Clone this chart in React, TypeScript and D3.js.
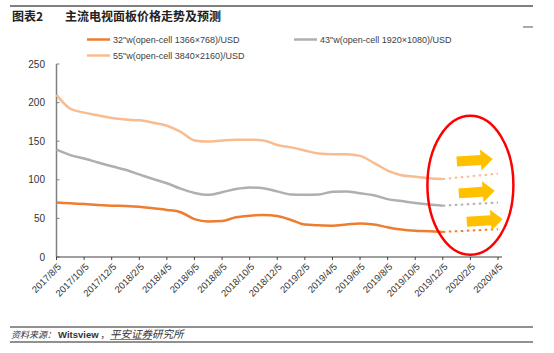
import * as d3 from "d3";

const W = 554;
const H = 353;

// x axis labels, one every two months
const tickLabels = [
  "2017/8/5", "2017/10/5", "2017/12/5", "2018/2/5", "2018/4/5", "2018/6/5",
  "2018/8/5", "2018/10/5", "2018/12/5", "2019/2/5", "2019/4/5", "2019/6/5",
  "2019/8/5", "2019/10/5", "2019/12/5", "2020/2/5", "2020/4/5",
];

// monthly prices, 2017/8 .. 2019/12 (month index 0..28)
const price32 = [
  70.5, 69.5, 68.5, 67.5, 66.5, 66, 65, 63, 61, 58, 49, 46, 46.5, 51.5, 53.5,
  54.5, 53, 48, 42, 41, 40.5, 42, 43.5, 42, 38.5, 35.5, 34, 33.5, 32.5,
];
const price43 = [
  139, 132, 127.5, 122.5, 117.5, 113, 107, 101, 95.5, 88.5, 83, 80.5, 84, 88,
  90, 89, 85, 81, 80.5, 81, 84.5, 85, 82.5, 80, 75, 72.5, 70, 68, 66.5,
];
const price55 = [
  210, 192, 187, 183.5, 180, 178, 177, 174, 170, 162, 151, 149.5, 151, 152,
  152, 151, 145, 142, 138, 134, 133, 133, 131, 122, 112, 106, 104, 102, 101,
];

// forecast (dotted): from last month to 2020/4
const forecastMonths = [28, 32];
const forecast32 = [32.5, 36];
const forecast43 = [66.5, 70.5];
const forecast55 = [101, 108];

const series = [
  { name: "32\"w(open-cell 1366×768)/USD", color: "#ED7D31", values: price32, fc: forecast32 },
  { name: "43\"w(open-cell 1920×1080)/USD", color: "#AFAFAF", values: price43, fc: forecast43 },
  { name: "55\"w(open-cell 3840×2160)/USD", color: "#F8BC91", values: price55, fc: forecast55 },
];

const yTicks = [0, 50, 100, 150, 200, 250];

const x = d3.scaleLinear().domain([0, 32]).range([56.5, 498]);
const y = d3.scaleLinear().domain([0, 250]).range([257, 64]);

const cjk = "'Noto Sans CJK SC', 'Liberation Sans', sans-serif";
const latin = "'Liberation Sans', Arial, sans-serif";

const line = d3
  .line<number>()
  .x((_, i) => x(i))
  .y((d) => y(d))
  .curve(d3.curveMonotoneX);

const fcLine = d3
  .line<number>()
  .x((_, i) => x(forecastMonths[i]))
  .y((d) => y(d));

function arrowPath(x0: number, x1: number, cy: number) {
  const head = 12;
  const sh = 5;
  const hh = 10.5;
  const xm = x1 - head;
  return `M${x0},${cy - sh}L${xm},${cy - sh}L${xm},${cy - hh}L${x1},${cy}L${xm},${cy + hh}L${xm},${cy + sh}L${x0},${cy + sh}Z`;
}

export default function App() {
  const ex = x(30);
  const ey = y(93);
  return (
    <div style={{ position: "absolute", left: 0, top: 0, background: "#fff" }}>
      <svg width={W} height={H} style={{ display: "block" }}>
        <rect width={W} height={H} fill="#fff" />
        {/* header */}
        <line x1={10} x2={533} y1={6} y2={6} stroke="#808080" strokeWidth={2} />
        <text x={12} y={21} fontFamily={cjk} fontSize={12} fontWeight="bold" fill="#222">图表2</text>
        <text x={65} y={21} fontFamily={cjk} fontSize={12} fontWeight="bold" fill="#222">主流电视面板价格走势及预测</text>
        <line x1={523} x2={533} y1={27} y2={27} stroke="#555" strokeWidth={1} />

        {/* legend */}
        {series.map((s, i) => {
          const lx = i === 1 ? 294 : 87;
          const ly = i === 2 ? 55.5 : 39.5;
          return (
            <g key={s.name}>
              <line x1={lx} x2={lx + 23} y1={ly} y2={ly} stroke={s.color} strokeWidth={2.5} />
              <text x={lx + 26} y={ly + 3} fontFamily={latin} fontSize={9} fill="#404040">{s.name}</text>
            </g>
          );
        })}

        {/* y axis */}
        <line x1={x(0)} x2={x(0)} y1={y(250)} y2={y(0)} stroke="#808080" strokeWidth={1.5} />
        {yTicks.map((t) => (
          <g key={t}>
            <line x1={x(0)} x2={x(0) + 3} y1={y(t)} y2={y(t)} stroke="#808080" />
            <text x={45} y={y(t) + 3.5} textAnchor="end" fontFamily={latin} fontSize={10} fill="#333">{t}</text>
          </g>
        ))}

        {/* x axis */}
        <line x1={x(0)} x2={502} y1={y(0)} y2={y(0)} stroke="#404040" strokeWidth={1} />
        {tickLabels.map((t, i) => {
          const tx = x(i * 2);
          return (
            <g key={t}>
              <line x1={tx} x2={tx} y1={y(0)} y2={y(0) + 3} stroke="#404040" />
              <text
                transform={`translate(${tx + 3},${y(0) + 8}) rotate(-45)`}
                textAnchor="end"
                dy="0.35em"
                fontFamily={latin}
                fontSize={9.5}
                fill="#333"
              >
                {t}
              </text>
            </g>
          );
        })}

        {/* series */}
        {series.map((s) => (
          <g key={s.name}>
            <path d={line(s.values) ?? ""} fill="none" stroke={s.color} strokeWidth={2.5} />
            <path
              d={fcLine(s.fc) ?? ""}
              fill="none"
              stroke={s.color}
              strokeWidth={2}
              strokeDasharray="2.5,3.5"
            />
          </g>
        ))}

        {/* annotations */}
        <ellipse cx={ex} cy={ey} rx={43} ry={69.5} fill="none" stroke="#FF0000" strokeWidth={2.5} />
        {series.map((s, i) => {
          const off = [10, 12, 16][i];
          const cy = y((s.fc[0] + s.fc[1]) / 2) - off;
          const x0 = x(29.3) + i * -2 + (i === 0 ? 6 : 0);
          return (
            <path
              key={s.name + "a"}
              d={arrowPath(x0, x0 + 36, cy)}
              fill="#FFC000"
              transform={`rotate(-4, ${x0 + 18}, ${cy})`}
            />
          );
        })}

        {/* source */}
        <line x1={10} x2={533} y1={327} y2={327} stroke="#222" strokeWidth={1} />
        <text x={11} y={337.5} fontFamily={cjk} fontSize={9} fill="#333" fontStyle="italic">资料来源：</text>
        <text x={58} y={337.5} fontFamily={latin} fontSize={9.5} fontWeight="bold" fill="#333">Witsview</text>
        <text x={100.5} y={337.5} fontFamily={cjk} fontSize={9} fill="#333">，</text>
        <text x={110} y={337.5} fontFamily={cjk} fontSize={10.5} fill="#333" fontStyle="italic">平安证券研究所</text>
        <line x1={110} x2={152} y1={339.5} y2={339.5} stroke="#1BA1B5" strokeWidth={1} />
        <line x1={10} x2={533} y1={342} y2={342} stroke="#222" strokeWidth={1} />
      </svg>
    </div>
  );
}
